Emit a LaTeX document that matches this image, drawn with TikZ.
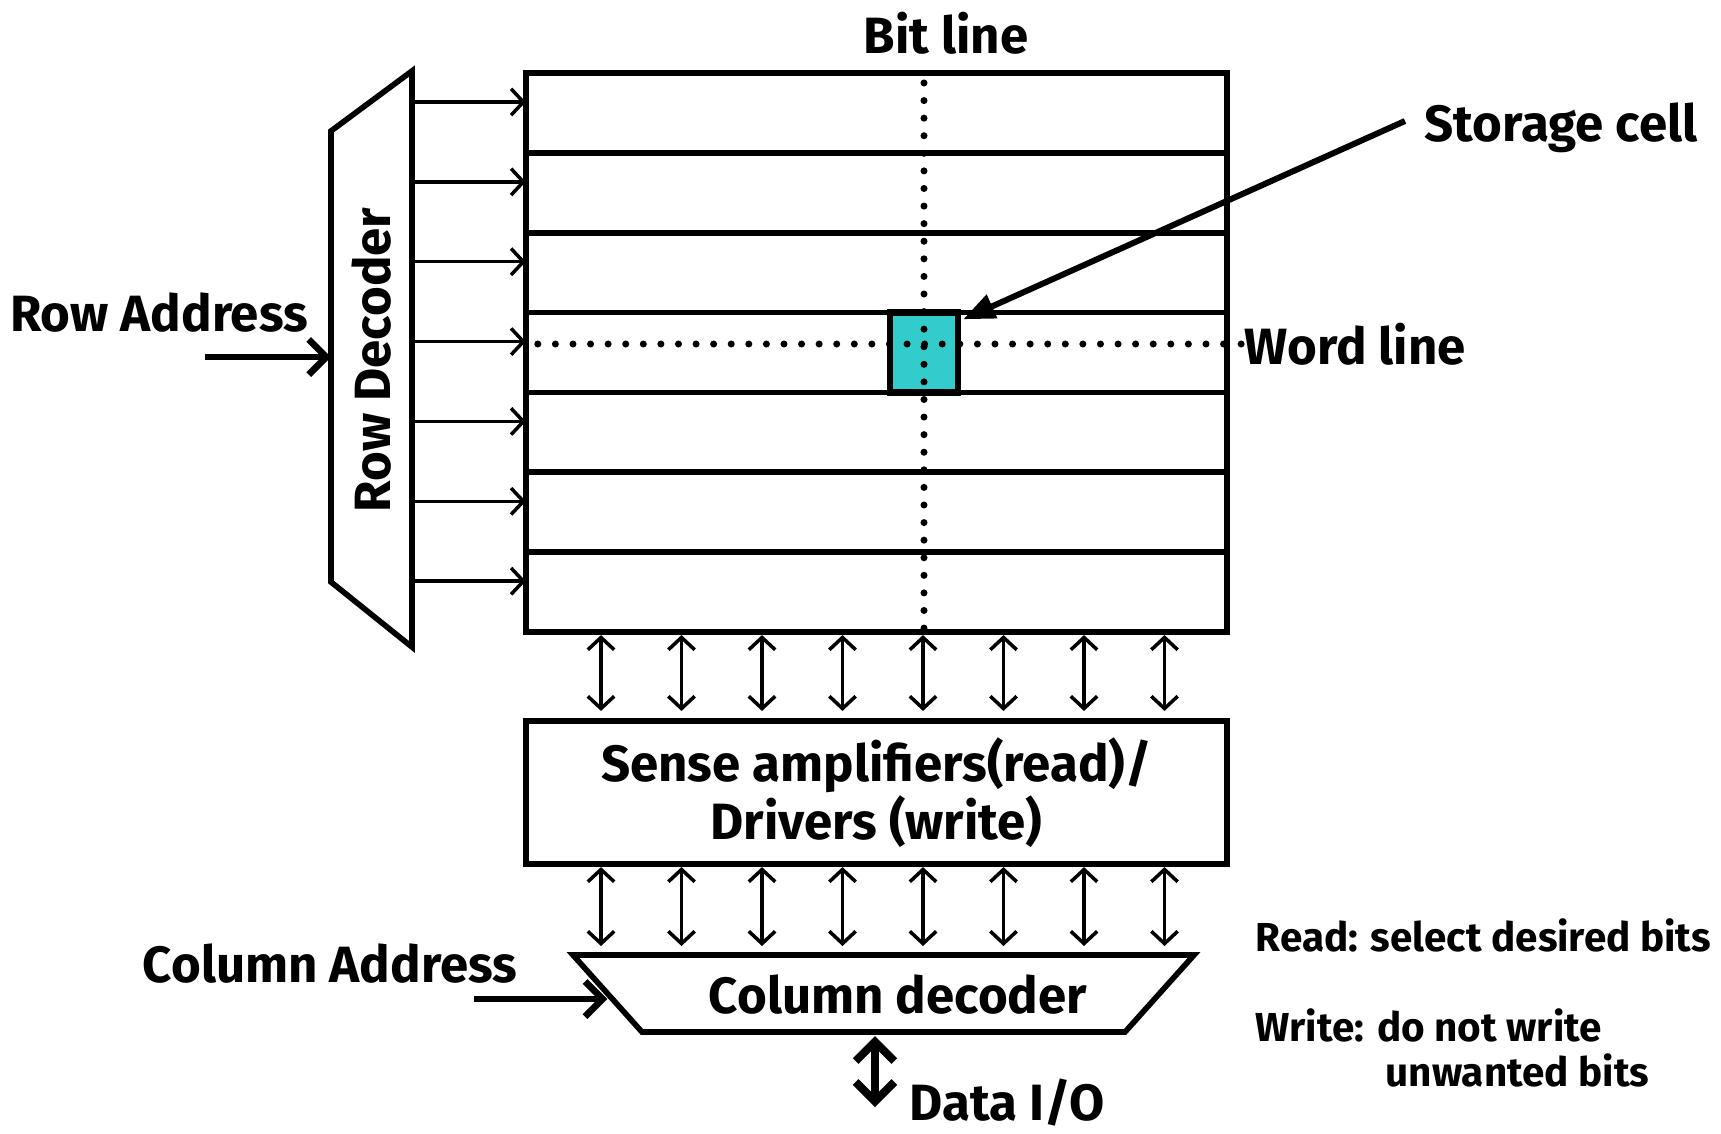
\documentclass[tikz,border=0pt]{standalone}
\usepackage{fontspec}
\setmainfont{Fira Sans}
\usetikzlibrary{arrows.meta,calc}
\definecolor{cellteal}{RGB}{51,204,204}
\tikzset{
  lbl/.style={font=\bfseries\fontsize{14.5}{16.5}\selectfont, inner sep=0pt},
  note/.style={font=\bfseries\fontsize{11.5}{13}\selectfont, inner sep=0pt, anchor=west},
  heavy/.style={line width=1.6pt, line join=miter},
  rowbox/.style={draw, heavy, minimum width=7.01cm, minimum height=0.7986cm, inner sep=0pt, outer sep=0pt},
  wire/.style={line width=1pt, -{Straight Barb[length=3.5pt,width=7.5pt]}},
  biwire/.style={line width=1pt, {Straight Barb[length=3.5pt,width=7.5pt]}-{Straight Barb[length=3.5pt,width=7.5pt]}},
  bigarrow/.style={line width=1.9pt, -{Straight Barb[length=5pt,width=10pt]}},
  bigbi/.style={line width=2.3pt, {Straight Barb[length=5.5pt,width=11pt]}-{Straight Barb[length=5.5pt,width=11pt]}},
  pointer/.style={line width=1.7pt, -{Triangle[length=9pt,width=7pt]}},
  dotline/.style={line width=2pt, line cap=round, dash pattern=on 0pt off 5pt}
}
\begin{document}
\begin{tikzpicture}[x=0.01cm, y=-0.01cm]
\useasboundingbox (0,0) rectangle (1721,1133);

% memory array
\foreach \i in {1,...,7}
  \node[rowbox] (row\i) at (876.5, {73+79.86*(\i-0.5)}) {};

% row decoder
\coordinate (rdtl) at (331,131);
\coordinate (rdtr) at (412,71);
\coordinate (rdbr) at (412,647);
\coordinate (rdbl) at (331,582);
\draw[heavy] (rdtl) -- (rdtr) -- (rdbr) -- (rdbl) -- cycle;
\node[lbl, rotate=90] (rowdec) at (372,360) {Row Decoder};
\foreach \i in {1,...,7} {
  \coordinate (out\i) at (412, {102+79.86*(\i-1)});
  \draw[wire] (out\i) -- (out\i -| row\i.west);
}

\node[lbl] (rowaddr) at (159,313) {Row Address};
\coordinate (raddr) at (205,357);
\draw[bigarrow] (raddr) -- (raddr -| rdtl);

% storage cell, bit line, word line
\node[draw, fill=cellteal, line width=1.8pt, minimum width=0.68cm, minimum height=0.80cm, inner sep=0pt] (cell) at (924,352.5) {};
\node[lbl] (bitline) at (946,33) {Bit line};
\draw[dotline] ([yshift=-0.1cm]row1.north -| cell) -- (row7.south -| cell);
\node[lbl, anchor=west] (wordline) at (1244,344) {Word line};
\draw[dotline] ([xshift=0.12cm]row4.west |- wordline) -- (wordline.west);

\node[lbl, anchor=west] (storage) at (1424,128) {Storage cell};
\draw[pointer] ([xshift=-0.19cm, yshift=0.07cm]storage.west) -- ([xshift=0.02cm, yshift=-0.1cm]cell.north east);

% sense amplifiers
\node[rowbox, lbl, minimum height=1.43cm, align=center] (sense) at (876.5,792.5) {Sense amplifiers(read)/\\Drivers (write)};

% column decoder
\coordinate (cdtl) at (573,955);
\coordinate (cdtr) at (1194,955);
\coordinate (cdbr) at (1125,1032);
\coordinate (cdbl) at (642,1032);
\draw[heavy] (cdtl) -- (cdtr) -- (cdbr) -- (cdbl) -- cycle;
\node[lbl] (coldec) at (898,995) {Column decoder};

\foreach \k in {0,...,7} {
  \coordinate (bl\k) at ({601+80.5*\k}, 0);
  \draw[biwire, shorten <=0.03cm, shorten >=0.1cm] (bl\k |- row7.south) -- (bl\k |- sense.north);
  \draw[biwire, shorten <=0.03cm, shorten >=0.09cm] (bl\k |- sense.south) -- (bl\k |- cdtl);
}

\node[lbl] (coladdr) at (330,964) {Column Address};
\coordinate (cdin) at ($(cdtl)!0.571!(cdbl)$);
\coordinate (caddr) at (474,999);
\draw[bigarrow, shorten >=0.05cm] (caddr) -- (caddr -| cdin);

\node[lbl, anchor=west] (dataio) at (909,1103) {Data I/O};
\coordinate (io) at (875,1107);
\draw[bigbi, shorten <=0.04cm] (io |- cdbl) -- (io);

% notes
\node[note] (readnote) at (1255,935) {Read: select desired bits};
\node[note] (writenote) at (1255,1025) {Write: do not write};
\node[note] (unwanted) at (1385,1070) {unwanted bits};
\end{tikzpicture}
\end{document}
